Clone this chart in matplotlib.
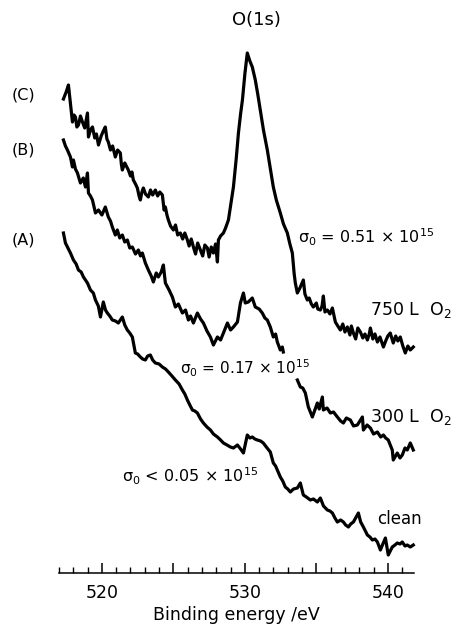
import matplotlib
matplotlib.use('Agg')
import matplotlib.pyplot as plt
import numpy as np
from matplotlib.ticker import MultipleLocator, FixedLocator, FixedFormatter

plt.rcParams['font.family'] = ['DejaVu Sans']
plt.rcParams['mathtext.default'] = 'regular'

# binding energy (eV) and intensity (arb. units)
c_energy = [517.31, 517.50, 517.66, 517.80, 517.94, 518.05, 518.15, 518.25, 518.36, 518.50,
            518.64, 518.80, 518.99, 519.06, 519.20, 519.34, 519.50, 519.62, 519.76, 519.95,
            520.10, 520.24, 520.35, 520.45, 520.60, 520.75, 520.94, 521.10, 521.29, 521.36,
            521.43, 521.60, 521.85, 522.00, 522.10, 522.20, 522.35, 522.48, 522.60, 522.69,
            522.80, 522.90, 523.05, 523.25, 523.40, 523.55, 523.74, 523.90, 524.05, 524.23,
            524.35, 524.44, 524.55, 524.65, 524.80, 525.00, 525.15, 525.30, 525.49, 525.65,
            525.80, 525.98, 526.10, 526.25, 526.40, 526.55, 526.70, 526.89, 527.05, 527.20,
            527.38, 527.50, 527.65, 527.80, 527.95, 528.08, 528.15, 528.30, 528.50, 528.65,
            528.85, 529.00, 529.20, 529.40, 529.55, 529.70, 529.83, 530.00, 530.17, 530.35,
            530.52, 530.73, 530.90, 531.08, 531.30, 531.57, 531.80, 531.99, 532.20, 532.48,
            532.70, 532.97, 533.15, 533.32, 533.45, 533.53, 533.67, 533.85, 534.09, 534.20,
            534.37, 534.50, 534.65, 534.79, 535.00, 535.10, 535.28, 535.40, 535.49, 535.60,
            535.77, 535.95, 536.12, 536.33, 536.50, 536.68, 536.85, 537.00, 537.17, 537.35,
            537.45, 537.59, 537.75, 537.90, 538.08, 538.25, 538.40, 538.57, 538.70, 538.78,
            538.95, 539.10, 539.27, 539.45, 539.69, 539.85, 540.00, 540.17, 540.38, 540.55,
            540.70, 540.87, 541.05, 541.22, 541.40, 541.57, 541.78]
c_counts = [525, 532, 539, 520, 502, 509, 507, 497, 499, 508,
            502, 496, 511, 487, 494, 497, 486, 490, 479, 488,
            493, 497, 485, 482, 474, 478, 467, 474, 471, 460,
            454, 461, 454, 448, 452, 444, 440, 436, 428, 424,
            432, 436, 430, 427, 434, 429, 434, 428, 432, 429,
            414, 417, 409, 404, 398, 394, 399, 389, 391, 385,
            391, 384, 378, 385, 377, 370, 381, 374, 368, 379,
            376, 367, 377, 371, 380, 362, 384, 388, 391, 396,
            404, 418, 437, 466, 491, 510, 524, 550, 571, 563,
            557, 544, 530, 514, 494, 474, 454, 437, 424, 411,
            400, 391, 380, 371, 350, 341, 331, 336, 344, 330,
            324, 326, 320, 317, 321, 315, 314, 318, 328, 312,
            314, 310, 316, 302, 298, 294, 300, 292, 297, 289,
            298, 291, 285, 296, 292, 286, 290, 284, 290, 296,
            285, 290, 282, 287, 277, 283, 288, 291, 281, 288,
            283, 287, 278, 271, 278, 274, 277]

b_energy = [517.31, 517.45, 517.59, 517.80, 517.94, 518.01, 518.15, 518.29, 518.50, 518.70,
            518.85, 518.99, 519.06, 519.20, 519.34, 519.55, 519.76, 520.00, 520.24, 520.45,
            520.60, 520.73, 520.94, 521.08, 521.25, 521.43, 521.60, 521.78, 521.95, 522.13,
            522.35, 522.55, 522.70, 522.83, 523.04, 523.25, 523.45, 523.60, 523.80, 523.95,
            524.15, 524.30, 524.44, 524.70, 524.93, 525.14, 525.35, 525.63, 525.85, 526.05,
            526.20, 526.40, 526.68, 526.90, 527.10, 527.35, 527.59, 527.80, 528.08, 528.30,
            528.50, 528.78, 529.00, 529.20, 529.48, 529.69, 529.90, 530.03, 530.24, 530.52,
            530.73, 531.00, 531.22, 531.40, 531.57, 531.78, 531.99, 532.15, 532.27, 532.48,
            532.62, 532.69, np.nan,
            533.67, 533.88, 534.05, 534.23, 534.44, 534.72, 535.07, 535.20, 535.42, 535.49,
            535.75, 535.98, 536.20, 536.47, 536.70, 536.89, 537.10, 537.38, 537.60, 537.87,
            538.22, 538.29, 538.55, 538.78, 539.00, 539.27, 539.50, 539.69, 539.85, 540.03,
            540.31, 540.38, 540.66, 540.85, 541.01, 541.20, 541.36, 541.57, 541.78]
b_counts = [484, 478, 474, 467, 457, 464, 455, 451, 441, 446,
            437, 451, 431, 428, 424, 411, 414, 409, 417, 407,
            403, 397, 389, 394, 386, 389, 382, 384, 376, 377,
            370, 374, 368, 371, 361, 354, 348, 342, 351, 347,
            352, 359, 341, 334, 327, 317, 320, 311, 314, 304,
            308, 301, 311, 305, 301, 293, 287, 279, 287, 284,
            291, 301, 294, 297, 302, 321, 331, 321, 322, 326,
            317, 315, 311, 306, 304, 297, 287, 290, 282, 274,
            277, 272, np.nan,
            244, 237, 236, 231, 217, 207, 221, 215, 227, 214,
            216, 211, 212, 207, 203, 201, 206, 204, 198, 199,
            207, 194, 199, 196, 190, 192, 187, 189, 186, 184,
            174, 164, 171, 166, 169, 176, 174, 181, 174]

a_energy = [517.31, 517.45, 517.59, 517.80, 518.01, 518.20, 518.36, 518.55, 518.71, 518.85,
            518.99, 519.20, 519.40, 519.55, 519.75, 519.90, 520.10, 520.25, 520.38, 520.55,
            520.73, 520.95, 521.15, 521.43, 521.60, 521.78, 521.95, 522.13, 522.34, 522.50,
            522.69, 522.85, 523.04, 523.20, 523.39, 523.55, 523.74, 524.00, 524.23, 524.45,
            524.65, 524.90, 525.14, 525.40, 525.63, 525.80, 525.98, 526.15, 526.33, 526.50,
            526.68, 526.90, 527.10, 527.35, 527.59, 527.80, 528.08, 528.30, 528.50, 528.75,
            528.99, 529.20, 529.48, 529.70, 529.90, 530.17, 530.35, 530.52, 530.70, 530.87,
            531.10, 531.29, 531.50, 531.78, 531.99, 532.15, 532.27, 532.48, 532.65, 532.83,
            533.00, 533.18, 533.40, 533.67, 533.88, 534.09, 534.30, 534.58, 534.80, 535.07,
            535.28, 535.50, 535.77, 535.95, 536.12, 536.30, 536.47, 536.70, 536.89, 537.05,
            537.24, 537.40, 537.59, 537.94, 538.10, 538.29, 538.57, 538.75, 538.92, 539.10,
            539.27, 539.48, 539.65, 539.83, 540.03, 540.31, 540.50, 540.66, 540.85, 541.01,
            541.20, 541.36, 541.57, 541.78]
a_counts = [391, 381, 377, 371, 364, 360, 354, 352, 347, 344,
            341, 334, 331, 324, 318, 307, 322, 314, 311, 308,
            304, 303, 301, 307, 299, 294, 291, 287, 271, 270,
            267, 265, 264, 268, 269, 264, 261, 260, 257, 255,
            252, 248, 244, 240, 234, 230, 224, 219, 214, 213,
            211, 205, 201, 197, 194, 190, 187, 184, 181, 179,
            177, 176, 179, 175, 171, 189, 186, 187, 185, 184,
            183, 181, 177, 172, 161, 158, 154, 147, 143, 137,
            135, 132, 135, 136, 141, 129, 127, 124, 125, 122,
            126, 118, 114, 113, 111, 106, 102, 104, 102, 99,
            97, 100, 102, 111, 102, 97, 89, 87, 84, 85,
            82, 74, 80, 86, 69, 77, 79, 81, 80, 82,
            78, 79, 77, 79]

tick_major = [520, 525, 530, 535, 540]
tick_labels = ['520', '', '530', '', '540']

fig = plt.figure(figsize=(4.57, 6.24), dpi=100)
ax = fig.add_axes([59 / 457, 51 / 624, 355 / 457, 573 / 624])
ax.set_xlim(517.0, 541.83)
ax.set_ylim(51, 624)

for e, c in [(c_energy, c_counts), (b_energy, b_counts), (a_energy, a_counts)]:
    ax.plot(e, c, color='black', lw=2.3, solid_joinstyle='round', clip_on=False)

for s in ['top', 'left', 'right']:
    ax.spines[s].set_visible(False)
ax.spines['bottom'].set_linewidth(1.1)
ax.set_yticks([])
ax.xaxis.set_major_locator(FixedLocator(tick_major))
ax.xaxis.set_major_formatter(FixedFormatter(tick_labels))
ax.xaxis.set_minor_locator(MultipleLocator(1))
ax.tick_params(axis='x', which='major', direction='in', length=7, width=1.1,
               labelsize=12.5, pad=8)
ax.tick_params(axis='x', which='minor', direction='in', length=4, width=1.0)
ax.set_xlabel('Binding energy /eV', fontsize=12.5, labelpad=3)

ax.text(530.8, 604, 'O(1s)', fontsize=13, ha='center', va='center')
ax.text(514.5, 529, '(C)', fontsize=11.5, ha='center', va='center')
ax.text(514.5, 474, '(B)', fontsize=11.5, ha='center', va='center')
ax.text(514.5, 384, '(A)', fontsize=11.5, ha='center', va='center')

ax.text(533.74, 381, 'σ$_0$ = 0.51 × 10$^{15}$', fontsize=11.5, va='baseline')
ax.text(538.78, 309, '750 L  O$_2$', fontsize=12.5, va='baseline')
ax.text(525.49, 250, 'σ$_0$ = 0.17 × 10$^{15}$', fontsize=11, va='baseline')
ax.text(538.78, 202, '300 L  O$_2$', fontsize=12.5, va='baseline')
ax.text(521.43, 142, 'σ$_0$ < 0.05 × 10$^{15}$', fontsize=11.5, va='baseline')
ax.text(539.27, 100, 'clean', fontsize=12, va='baseline')

fig.savefig('out.png', dpi=100)
